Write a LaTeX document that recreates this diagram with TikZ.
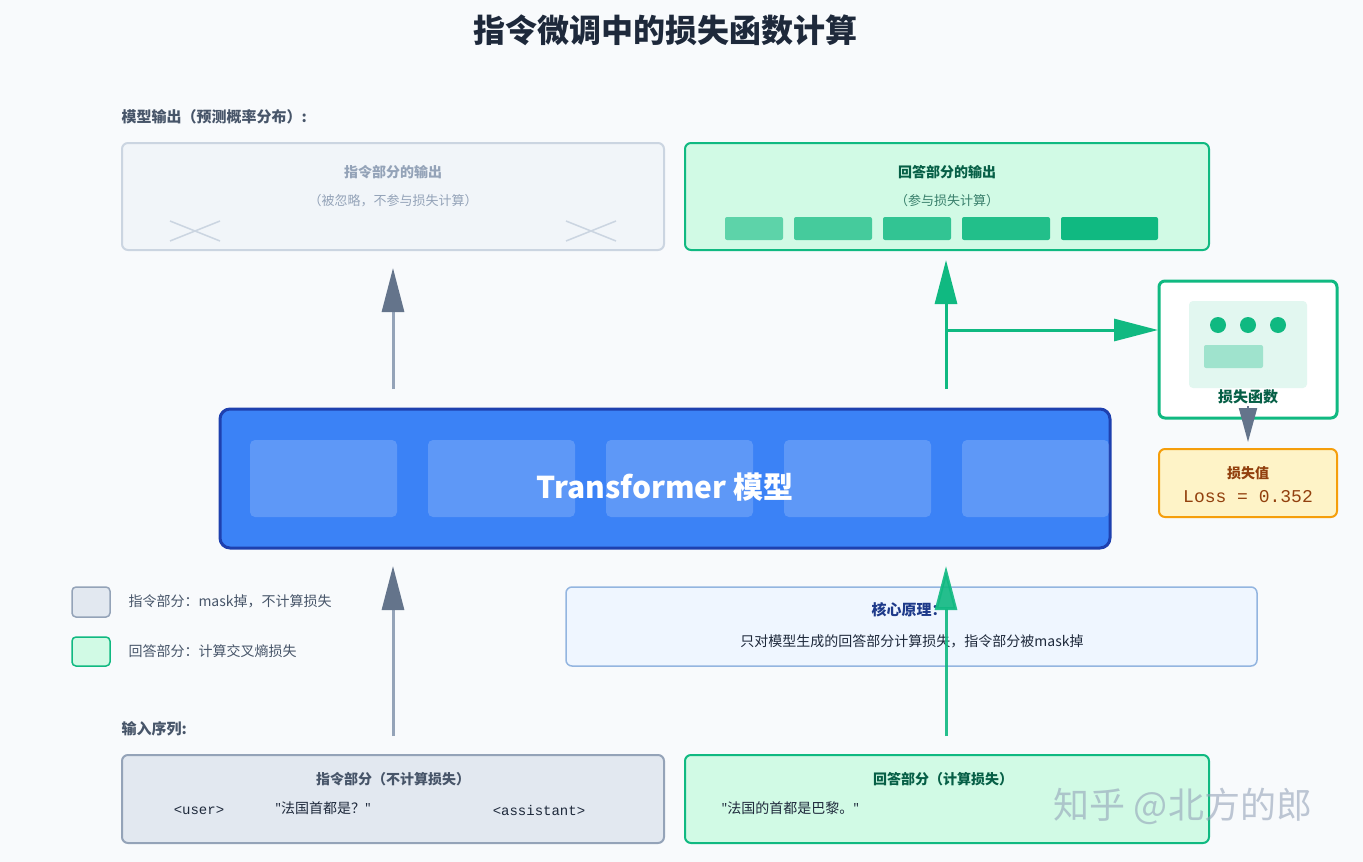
\documentclass[tikz,border=0pt]{standalone}
\usepackage{fontspec}
\setmainfont{Noto Sans CJK SC}
\setmonofont{Liberation Mono}
\newfontfamily\latinfont{Noto Sans}
\usetikzlibrary{arrows.meta}
\definecolor{bgcolor}{HTML}{F8FAFC}
\definecolor{titlecolor}{HTML}{1E293B}
\definecolor{slatefill}{HTML}{E2E8F0}
\definecolor{slatedraw}{HTML}{94A3B8}
\definecolor{slatetext}{HTML}{475569}
\definecolor{ghostfill}{HTML}{F1F5F9}
\definecolor{ghostdraw}{HTML}{CBD5E1}
\definecolor{greenfill}{HTML}{D1FAE5}
\definecolor{greendraw}{HTML}{10B981}
\definecolor{greentext}{HTML}{065F46}
\definecolor{bluefill}{HTML}{3B82F6}
\definecolor{bluedraw}{HTML}{1E40AF}
\definecolor{notefill}{HTML}{EFF6FF}
\definecolor{notedraw}{HTML}{93B5E0}
\definecolor{notetext}{HTML}{1E3A8A}
\definecolor{lossfill}{HTML}{FEF3C7}
\definecolor{lossdraw}{HTML}{F59E0B}
\definecolor{losstext}{HTML}{92400E}
\definecolor{arrowgray}{HTML}{64748B}
\newcommand{\qt}{{\latinfont"}}
\tikzset{
  box/.style={rounded corners=6pt, line width=2pt},
  head/.style={font=\bfseries\fontsize{14}{16}\selectfont},
  sub/.style={font=\itshape\fontsize{13}{15}\selectfont},
  label/.style={anchor=west, font=\bfseries\fontsize{15}{18}\selectfont, text=slatetext},
  up/.style={line width=3pt, -{Triangle[length=44pt,width=22pt]}},
  upgray/.style={line width=3pt, slatedraw, -{Triangle[length=44pt,width=22pt,color=arrowgray]}},
}
\begin{document}
\begin{tikzpicture}[x=1pt,y=-1pt]

    \fill[bgcolor] (0,0) rectangle (1363,862);
    \useasboundingbox (0,0) rectangle (1363,862);

    \node[font=\bfseries\fontsize{32}{36}\selectfont, text=titlecolor] (title) at (665,30) {指令微调中的损失函数计算};

    % outputs
    \node[label] (outlabel) at (118,117) {模型输出（预测概率分布）:};
    \draw[box, fill=ghostfill, draw=ghostdraw] (122,143) rectangle (664,250);
    \node[head, text=slatedraw] (outA) at (393,172) {指令部分的输出};
    \node[sub, text=slatedraw] (outAsub) at (393,201) {（被忽略，不参与损失计算）};
    \draw[ghostdraw, line width=1.5pt] (170,221) -- (220,241) (170,241) -- (220,221);
    \draw[ghostdraw, line width=1.5pt] (566,221) -- (616,241) (566,241) -- (616,221);

    \draw[box, fill=greenfill, draw=greendraw] (685,143) rectangle (1209,250);
    \node[head, text=greentext] (outB) at (947,172) {回答部分的输出};
    \node[sub, text=greentext!80] (outBsub) at (947,201) {（参与损失计算）};
    \foreach \xa/\xb/\op in {725/783/0.6, 794/872/0.72, 883/951/0.82, 962/1050/0.9, 1061/1158/1}
      \fill[greendraw, opacity=\op, rounded corners=2pt] (\xa,217) rectangle (\xb,240);

    % loss function
    \draw[box, fill=white, draw=greendraw, line width=3pt] (1159,281) rectangle (1337,418);
    \fill[greendraw!12, rounded corners=4pt] (1189,301) rectangle (1307,388);
    \foreach \x in {1218,1248,1278}
      \fill[greendraw] (\x,325) circle (8);
    \fill[greendraw!40, rounded corners=2pt] (1204,345) rectangle (1263,368);
    \node[head, text=greentext, font=\bfseries\fontsize{15}{18}\selectfont] (lossfn) at (1248,397) {损失函数};
    \coordinate (lossfnbot) at (1248,406);
    \coordinate (lossvaltop) at (1248,442);
    \draw[arrowgray, line width=2pt, -{Triangle[length=34pt,width=18pt]}] (lossfnbot) -- (lossvaltop);

    \draw[box, fill=lossfill, draw=lossdraw] (1159,449) rectangle (1337,517);
    \node[head, text=losstext] (lossval) at (1248,473) {损失值};
    \node[font=\ttfamily\fontsize{18}{20}\selectfont, text=losstext] (lossnum) at (1248,497) {Loss = 0.352};

    % transformer
    \draw[box, fill=bluefill, draw=bluedraw, line width=3pt, rounded corners=10pt] (220,409) rectangle (1110,548);
    \foreach \x in {250,428,606,784,962}
      \fill[white, opacity=0.18, rounded corners=5pt] (\x,440) rectangle ++(147,77);
    \node[font=\bfseries\fontsize{30}{34}\selectfont, text=white] (model) at (665,487) {Transformer 模型};

    % arrows model -> outputs
    \coordinate (mA) at (393,389);
    \coordinate (oA) at (393,268);
    \coordinate (mB) at (946,389);
    \coordinate (oB) at (946,260);
    \coordinate (split) at (946,330);
    \coordinate (lossin) at (1158,330);
    \draw[upgray] (mA) -- (oA);
    \draw[up, greendraw] (mB) -- (oB);
    \draw[up, greendraw] (split) -- (lossin);

    % legend
    \draw[fill=slatefill, draw=slatedraw, line width=1.5pt, rounded corners=4pt] (72,587) rectangle (110,617);
    \node[anchor=west, font=\fontsize{14}{16}\selectfont, text=slatetext] (legA) at (125,601) {指令部分：mask掉，不计算损失};
    \draw[fill=greenfill, draw=greendraw, line width=1.5pt, rounded corners=4pt] (72,637) rectangle (110,666);
    \node[anchor=west, font=\fontsize{14}{16}\selectfont, text=slatetext] (legB) at (125,651) {回答部分：计算交叉熵损失};

    % principle
    \draw[box, fill=notefill, draw=notedraw, line width=1.5pt] (566,587) rectangle (1257,666);
    \node[head, text=notetext, font=\bfseries\fontsize{15}{18}\selectfont] (princ) at (909,610) {核心原理：};
    \node[font=\fontsize{14}{16}\selectfont, text=titlecolor] (princtext) at (912,641) {只对模型生成的回答部分计算损失，指令部分被mask掉};

    % arrows inputs -> model
    \coordinate (iA) at (393,736);
    \coordinate (tA) at (393,566);
    \coordinate (iB) at (946,736);
    \coordinate (tB) at (946,566);
    \draw[upgray] (iA) -- (tA);
    \draw[up, greendraw, opacity=0.9] (iB) -- (tB);

    % inputs
    \node[label] (inlabel) at (118,729) {输入序列:};
    \draw[box, fill=slatefill, draw=slatedraw] (122,755) rectangle (664,843);
    \node[head, text=slatetext] (inA) at (393,779) {指令部分（不计算损失）};
    \node[font=\ttfamily\fontsize{14}{16}\selectfont, text=titlecolor] (tokuser) at (199,810) {<user>};
    \node[font=\fontsize{14}{16}\selectfont, text=titlecolor] (tokq) at (323,808) {\qt 法国首都是？\qt};
    \node[font=\ttfamily\fontsize{14}{16}\selectfont, text=titlecolor] (tokasst) at (539,810) {<assistant>};

    \draw[box, fill=greenfill, draw=greendraw] (685,755) rectangle (1209,843);
    \node[head, text=greentext] (inB) at (943,779) {回答部分（计算损失）};
    \node[anchor=west, font=\fontsize{14}{16}\selectfont, text=titlecolor] (toka) at (718,808) {\qt 法国的首都是巴黎。\qt};

    \node[font=\fontsize{36}{40}\selectfont, text=slatedraw, opacity=0.6] (mark) at (1183,806) {知乎 @北方的郎};

\end{tikzpicture}
\end{document}
